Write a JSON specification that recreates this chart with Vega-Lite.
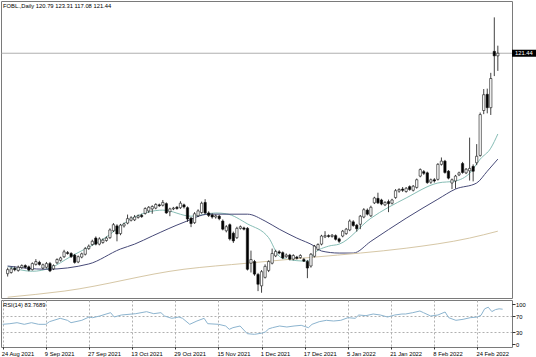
{
  "$schema": "https://vega.github.io/schema/vega-lite/v6.json",
  "padding": 0,
  "background": "white",
  "spacing": -1,
  "resolve": {"scale": {"x": "independent", "y": "independent"}},
  "config": {
    "font": "Liberation Sans",
    "view": {"stroke": "#7a7a7a", "strokeWidth": 1},
    "axis": {"labelFont": "Liberation Sans", "labelFontSize": 5.8, "labelColor": "#000", "tickColor": "#000", "tickWidth": 0.8, "gridColor": "#b0b0b0", "gridDash": [2, 2], "gridWidth": 1, "domain": false},
    "title": {"font": "Liberation Sans", "fontSize": 5.8, "fontWeight": "normal", "color": "#000", "anchor": "start", "frame": "group", "offset": -8, "dx": 2}
  },
  "datasets": {
    "candles": [
      {"i":0,"open":67.0,"high":68.5,"low":66.3,"close":68.0},
      {"i":1,"open":67.3,"high":68.6,"low":67.0,"close":68.2},
      {"i":2,"open":68.3,"high":68.8,"low":67.6,"close":68.0},
      {"i":3,"open":67.8,"high":69.0,"low":67.5,"close":68.6},
      {"i":4,"open":68.5,"high":69.3,"low":68.2,"close":69.0},
      {"i":5,"open":69.0,"high":69.3,"low":68.3,"close":68.6},
      {"i":6,"open":68.7,"high":69.0,"low":67.6,"close":67.9},
      {"i":7,"open":68.0,"high":69.8,"low":67.8,"close":69.5},
      {"i":8,"open":69.3,"high":70.6,"low":69.0,"close":70.0},
      {"i":9,"open":69.8,"high":70.2,"low":69.0,"close":69.3},
      {"i":10,"open":68.4,"high":69.5,"low":68.1,"close":69.2},
      {"i":11,"open":68.6,"high":69.9,"low":68.3,"close":69.5},
      {"i":12,"open":69.5,"high":69.9,"low":67.4,"close":67.7},
      {"i":13,"open":68.2,"high":69.3,"low":67.9,"close":69.0},
      {"i":14,"open":69.7,"high":70.8,"low":69.4,"close":70.5},
      {"i":15,"open":70.3,"high":71.2,"low":70.0,"close":70.9},
      {"i":16,"open":71.2,"high":72.9,"low":70.9,"close":72.4},
      {"i":17,"open":72.2,"high":72.6,"low":71.7,"close":72.0},
      {"i":18,"open":72.0,"high":72.3,"low":70.9,"close":71.2},
      {"i":19,"open":71.6,"high":71.9,"low":69.5,"close":69.8},
      {"i":20,"open":69.9,"high":71.5,"low":69.6,"close":71.2},
      {"i":21,"open":71.1,"high":72.2,"low":70.8,"close":71.9},
      {"i":22,"open":71.8,"high":73.6,"low":71.5,"close":73.2},
      {"i":23,"open":73.2,"high":74.2,"low":72.9,"close":73.8},
      {"i":24,"open":74.2,"high":75.4,"low":73.9,"close":75.0},
      {"i":25,"open":75.8,"high":76.2,"low":74.0,"close":74.3},
      {"i":26,"open":74.3,"high":76.0,"low":74.0,"close":75.6},
      {"i":27,"open":74.7,"high":75.7,"low":74.4,"close":75.3},
      {"i":28,"open":75.2,"high":76.2,"low":74.9,"close":75.8},
      {"i":29,"open":75.9,"high":78.2,"low":75.6,"close":77.8},
      {"i":30,"open":77.6,"high":79.5,"low":77.3,"close":79.1},
      {"i":31,"open":78.8,"high":79.2,"low":75.0,"close":76.8},
      {"i":32,"open":76.9,"high":79.3,"low":76.5,"close":79.0},
      {"i":33,"open":78.8,"high":79.6,"low":78.4,"close":79.3},
      {"i":34,"open":79.5,"high":81.6,"low":79.2,"close":80.6},
      {"i":35,"open":80.2,"high":81.2,"low":79.9,"close":80.8},
      {"i":36,"open":80.3,"high":81.5,"low":80.0,"close":81.0},
      {"i":37,"open":80.9,"high":81.6,"low":80.6,"close":81.3},
      {"i":38,"open":81.4,"high":81.8,"low":80.8,"close":81.1},
      {"i":39,"open":81.9,"high":83.4,"low":81.6,"close":83.1},
      {"i":40,"open":82.5,"high":83.7,"low":82.0,"close":83.4},
      {"i":41,"open":83.0,"high":83.9,"low":81.8,"close":83.6},
      {"i":42,"open":83.2,"high":84.4,"low":82.9,"close":84.1},
      {"i":43,"open":84.0,"high":84.3,"low":83.5,"close":83.8},
      {"i":44,"open":83.9,"high":85.2,"low":83.6,"close":84.6},
      {"i":45,"open":84.3,"high":84.6,"low":81.8,"close":82.0},
      {"i":46,"open":82.3,"high":83.3,"low":81.2,"close":83.0},
      {"i":47,"open":83.0,"high":83.5,"low":82.7,"close":83.2},
      {"i":48,"open":83.4,"high":83.7,"low":82.8,"close":83.1},
      {"i":49,"open":83.3,"high":84.9,"low":83.0,"close":84.4},
      {"i":50,"open":84.0,"high":84.3,"low":83.1,"close":83.5},
      {"i":51,"open":83.3,"high":83.6,"low":79.8,"close":80.5},
      {"i":52,"open":80.7,"high":81.0,"low":78.5,"close":79.4},
      {"i":53,"open":79.6,"high":82.2,"low":79.3,"close":81.8},
      {"i":54,"open":81.3,"high":82.9,"low":81.0,"close":82.5},
      {"i":55,"open":82.1,"high":84.8,"low":81.8,"close":84.4},
      {"i":56,"open":84.6,"high":85.4,"low":81.7,"close":82.0},
      {"i":57,"open":82.0,"high":82.4,"low":81.0,"close":81.4},
      {"i":58,"open":81.5,"high":81.9,"low":80.6,"close":81.0},
      {"i":59,"open":81.0,"high":81.6,"low":80.6,"close":81.3},
      {"i":60,"open":81.2,"high":81.5,"low":80.2,"close":80.6},
      {"i":61,"open":80.0,"high":80.4,"low":77.7,"close":78.0},
      {"i":62,"open":77.6,"high":79.0,"low":77.2,"close":78.6},
      {"i":63,"open":79.1,"high":79.4,"low":75.2,"close":75.6},
      {"i":64,"open":77.0,"high":77.4,"low":74.6,"close":75.1},
      {"i":65,"open":75.9,"high":78.6,"low":75.6,"close":78.2},
      {"i":66,"open":78.2,"high":78.9,"low":77.9,"close":78.6},
      {"i":67,"open":78.3,"high":78.6,"low":77.7,"close":78.0},
      {"i":68,"open":78.2,"high":78.5,"low":67.8,"close":68.1},
      {"i":69,"open":69.6,"high":72.7,"low":67.3,"close":70.5},
      {"i":70,"open":70.0,"high":70.4,"low":66.5,"close":66.9},
      {"i":71,"open":66.8,"high":67.2,"low":62.7,"close":64.4},
      {"i":72,"open":64.0,"high":67.9,"low":62.3,"close":67.5},
      {"i":73,"open":66.1,"high":69.3,"low":65.8,"close":68.8},
      {"i":74,"open":67.8,"high":70.3,"low":67.4,"close":70.0},
      {"i":75,"open":69.6,"high":73.2,"low":69.3,"close":72.0},
      {"i":76,"open":71.4,"high":72.9,"low":71.1,"close":72.5},
      {"i":77,"open":72.4,"high":72.8,"low":71.8,"close":72.1},
      {"i":78,"open":72.2,"high":72.5,"low":70.6,"close":70.9},
      {"i":79,"open":71.2,"high":72.0,"low":70.9,"close":71.6},
      {"i":80,"open":71.6,"high":71.9,"low":70.3,"close":70.6},
      {"i":81,"open":70.6,"high":71.8,"low":70.3,"close":71.5},
      {"i":82,"open":71.1,"high":71.4,"low":70.5,"close":70.8},
      {"i":83,"open":71.0,"high":71.8,"low":70.7,"close":71.5},
      {"i":84,"open":70.5,"high":70.9,"low":69.9,"close":70.1},
      {"i":85,"open":70.0,"high":70.4,"low":65.9,"close":68.4},
      {"i":86,"open":68.9,"high":72.1,"low":68.5,"close":71.8},
      {"i":87,"open":71.3,"high":74.1,"low":71.0,"close":73.8},
      {"i":88,"open":73.0,"high":74.5,"low":72.7,"close":74.2},
      {"i":89,"open":74.3,"high":76.6,"low":74.0,"close":76.3},
      {"i":90,"open":76.1,"high":77.5,"low":75.8,"close":76.4},
      {"i":91,"open":76.4,"high":76.7,"low":75.9,"close":76.2},
      {"i":92,"open":76.2,"high":76.8,"low":75.9,"close":76.5},
      {"i":93,"open":76.4,"high":76.7,"low":75.2,"close":75.5},
      {"i":94,"open":75.6,"high":75.9,"low":74.6,"close":75.0},
      {"i":95,"open":76.3,"high":77.8,"low":76.0,"close":77.5},
      {"i":96,"open":76.9,"high":78.3,"low":76.6,"close":78.0},
      {"i":97,"open":77.8,"high":80.4,"low":77.5,"close":80.0},
      {"i":98,"open":79.8,"high":80.2,"low":78.6,"close":78.9},
      {"i":99,"open":79.0,"high":79.3,"low":77.4,"close":78.1},
      {"i":100,"open":79.2,"high":81.5,"low":78.0,"close":81.2},
      {"i":101,"open":81.0,"high":83.2,"low":80.7,"close":82.8},
      {"i":102,"open":82.7,"high":83.1,"low":81.4,"close":81.7},
      {"i":103,"open":81.3,"high":83.8,"low":81.0,"close":83.4},
      {"i":104,"open":84.5,"high":86.0,"low":84.2,"close":85.7},
      {"i":105,"open":85.6,"high":87.0,"low":84.2,"close":84.5},
      {"i":106,"open":85.2,"high":85.5,"low":83.9,"close":84.2},
      {"i":107,"open":84.0,"high":84.9,"low":83.7,"close":84.6},
      {"i":108,"open":84.8,"high":85.3,"low":82.2,"close":84.3},
      {"i":109,"open":84.4,"high":85.5,"low":84.1,"close":85.2},
      {"i":110,"open":85.8,"high":87.9,"low":85.5,"close":87.5},
      {"i":111,"open":87.4,"high":88.1,"low":87.0,"close":87.8},
      {"i":112,"open":87.9,"high":88.4,"low":87.2,"close":87.6},
      {"i":113,"open":87.3,"high":88.4,"low":87.0,"close":88.1},
      {"i":114,"open":88.5,"high":88.8,"low":87.5,"close":87.8},
      {"i":115,"open":87.6,"high":88.9,"low":87.3,"close":88.6},
      {"i":116,"open":88.3,"high":90.5,"low":88.0,"close":90.2},
      {"i":117,"open":91.1,"high":93.0,"low":90.8,"close":92.7},
      {"i":118,"open":92.2,"high":92.6,"low":91.4,"close":91.8},
      {"i":119,"open":91.9,"high":92.2,"low":89.2,"close":89.5},
      {"i":120,"open":89.6,"high":90.5,"low":89.2,"close":90.2},
      {"i":121,"open":90.2,"high":90.6,"low":89.5,"close":89.9},
      {"i":122,"open":90.3,"high":94.3,"low":90.0,"close":94.0},
      {"i":123,"open":94.0,"high":95.7,"low":93.7,"close":94.8},
      {"i":124,"open":94.8,"high":95.1,"low":91.7,"close":92.0},
      {"i":125,"open":92.3,"high":92.6,"low":90.3,"close":90.6},
      {"i":126,"open":89.4,"high":90.5,"low":87.9,"close":90.2},
      {"i":127,"open":89.9,"high":91.4,"low":88.0,"close":91.1},
      {"i":128,"open":91.4,"high":92.2,"low":91.1,"close":91.9},
      {"i":129,"open":94.2,"high":94.6,"low":91.7,"close":92.0},
      {"i":130,"open":91.9,"high":93.1,"low":91.6,"close":92.8},
      {"i":131,"open":92.4,"high":100.6,"low":90.0,"close":93.0},
      {"i":132,"open":93.5,"high":94.0,"low":89.8,"close":92.3},
      {"i":133,"open":94.4,"high":99.0,"low":93.8,"close":96.0},
      {"i":134,"open":96.2,"high":106.8,"low":95.9,"close":106.3},
      {"i":135,"open":107.3,"high":112.6,"low":106.4,"close":111.2},
      {"i":136,"open":111.3,"high":112.7,"low":106.6,"close":108.0},
      {"i":137,"open":108.0,"high":116.6,"low":106.2,"close":115.2},
      {"i":138,"open":121.9,"high":130.3,"low":115.8,"close":120.8},
      {"i":139,"open":120.79,"high":123.31,"low":117.08,"close":121.44}
    ],
    "ma": [
      {"s":"ma1","i":0,"v":68.8},{"s":"ma1","i":7,"v":67.6},{"s":"ma1","i":12,"v":68.4},{"s":"ma1","i":18,"v":71.3},{"s":"ma1","i":27,"v":75.5},{"s":"ma1","i":36,"v":81.0},{"s":"ma1","i":44,"v":82.7},{"s":"ma1","i":52,"v":81.2},{"s":"ma1","i":59,"v":82.0},{"s":"ma1","i":62,"v":81.8},{"s":"ma1","i":68,"v":79.3},{"s":"ma1","i":74,"v":75.9},{"s":"ma1","i":77,"v":71.3},{"s":"ma1","i":79,"v":70.6},{"s":"ma1","i":85,"v":70.1},{"s":"ma1","i":87,"v":72.1},{"s":"ma1","i":91,"v":73.8},{"s":"ma1","i":94,"v":74.3},{"s":"ma1","i":103,"v":80.7},{"s":"ma1","i":113,"v":85.7},{"s":"ma1","i":122,"v":89.4},{"s":"ma1","i":127,"v":89.9},{"s":"ma1","i":131,"v":91.8},{"s":"ma1","i":134,"v":95.3},{"s":"ma1","i":137,"v":98.0},{"s":"ma1","i":139,"v":101.5},
      {"s":"ma2","i":0,"v":68.9},{"s":"ma2","i":11,"v":68.1},{"s":"ma2","i":23,"v":69.4},{"s":"ma2","i":32,"v":73.1},{"s":"ma2","i":36,"v":74.3},{"s":"ma2","i":41,"v":76.3},{"s":"ma2","i":50,"v":79.7},{"s":"ma2","i":57,"v":81.7},{"s":"ma2","i":68,"v":81.7},{"s":"ma2","i":73,"v":80.0},{"s":"ma2","i":77,"v":78.0},{"s":"ma2","i":82,"v":75.8},{"s":"ma2","i":87,"v":73.8},{"s":"ma2","i":89,"v":72.6},{"s":"ma2","i":94,"v":72.1},{"s":"ma2","i":98,"v":72.1},{"s":"ma2","i":103,"v":75.0},{"s":"ma2","i":113,"v":80.7},{"s":"ma2","i":122,"v":85.4},{"s":"ma2","i":127,"v":87.9},{"s":"ma2","i":133,"v":89.4},{"s":"ma2","i":136,"v":92.3},{"s":"ma2","i":139,"v":95.3},
      {"s":"ma3","i":0,"v":61.2},{"s":"ma3","i":16,"v":62.7},{"s":"ma3","i":50,"v":68.1},{"s":"ma3","i":68,"v":69.6},{"s":"ma3","i":87,"v":71.1},{"s":"ma3","i":100,"v":72.1},{"s":"ma3","i":113,"v":73.3},{"s":"ma3","i":131,"v":75.8},{"s":"ma3","i":139,"v":77.5}
    ],
    "rsi": [
      {"i":0,"rsi":49.2},{"i":2,"rsi":50.8},{"i":4,"rsi":53.3},{"i":6,"rsi":49.2},{"i":8,"rsi":53.3},{"i":10,"rsi":49.2},{"i":12,"rsi":49.2},{"i":13,"rsi":55.8},{"i":16,"rsi":64.2},{"i":18,"rsi":59.2},{"i":19,"rsi":53.3},{"i":22,"rsi":59.2},{"i":24,"rsi":67.5},{"i":25,"rsi":65.8},{"i":27,"rsi":70},{"i":30,"rsi":78.3},{"i":31,"rsi":67.5},{"i":33,"rsi":72.5},{"i":37,"rsi":75.8},{"i":40,"rsi":80.8},{"i":42,"rsi":75.8},{"i":44,"rsi":78.3},{"i":45,"rsi":70},{"i":47,"rsi":64.2},{"i":49,"rsi":67.5},{"i":50,"rsi":64.2},{"i":52,"rsi":49.2},{"i":54,"rsi":57.5},{"i":56,"rsi":64.2},{"i":57,"rsi":50.8},{"i":60,"rsi":49.2},{"i":62,"rsi":45},{"i":63,"rsi":36.7},{"i":64,"rsi":40.8},{"i":66,"rsi":45},{"i":68,"rsi":25.8},{"i":70,"rsi":24.2},{"i":72,"rsi":27},{"i":73,"rsi":30},{"i":74,"rsi":38},{"i":75,"rsi":40.8},{"i":77,"rsi":45},{"i":79,"rsi":42.5},{"i":81,"rsi":45},{"i":83,"rsi":46.7},{"i":85,"rsi":40.8},{"i":86,"rsi":49.2},{"i":88,"rsi":55.8},{"i":90,"rsi":59.2},{"i":92,"rsi":57.5},{"i":94,"rsi":59.2},{"i":96,"rsi":65.8},{"i":98,"rsi":64.2},{"i":99,"rsi":72.5},{"i":101,"rsi":70.8},{"i":103,"rsi":75},{"i":105,"rsi":72.5},{"i":107,"rsi":67.5},{"i":109,"rsi":72.5},{"i":111,"rsi":75},{"i":112,"rsi":75},{"i":114,"rsi":78.3},{"i":116,"rsi":82.5},{"i":117,"rsi":78.3},{"i":119,"rsi":70},{"i":121,"rsi":72.5},{"i":123,"rsi":80},{"i":124,"rsi":65.8},{"i":126,"rsi":59.2},{"i":128,"rsi":61.7},{"i":130,"rsi":65.8},{"i":132,"rsi":67.5},{"i":133,"rsi":72},{"i":134,"rsi":88},{"i":135,"rsi":92},{"i":136,"rsi":81},{"i":137,"rsi":86},{"i":138,"rsi":88},{"i":139,"rsi":87}
    ],
    "last": [{"price": 121.44, "label": "121.44"}]
  },
  "vconcat": [
    {
      "width": 511,
      "height": 297,
      "title": {"text": "FOBL.,Daily  120.79 123.31 117.08 121.44"},
      "layer": [
        {
          "data": {"name": "ma"},
          "mark": {"type": "line", "strokeWidth": 1, "interpolate": "monotone"},
          "encoding": {
            "x": {"field": "i", "type": "quantitative", "scale": {"domain": [-0.47, 141.6], "nice": false, "zero": false}, "axis": {"values": [0,12,24,36,48,60,72,84,96,108,120,132], "labels": false, "ticks": false, "grid": true, "title": null, "domain": true, "domainColor": "#8a8a8a", "domainWidth": 3, "minExtent": 0, "maxExtent": 0, "offset": 0}},
            "y": {"field": "v", "type": "quantitative", "scale": {"domain": [61.0, 134.34], "nice": false, "zero": false}, "axis": {"orient": "right", "title": null, "values": [133.1,127.6,122.2,116.8,111.4,106.0,100.6,95.2,89.8,84.4,79.0,73.6,68.1,62.7], "format": ".2f", "labelExpr": "abs(datum.value-122.2)<0.01 ? '' : datum.label", "tickSize": 3, "labelPadding": 0.5, "grid": true}},
            "color": {"field": "s", "type": "nominal", "scale": {"domain": ["ma1","ma2","ma3"], "range": ["#86bdb5","#474a78","#d6c7a6"]}, "legend": null}
          }
        },
        {
          "data": {"name": "last"},
          "mark": {"type": "rule", "color": "#9a9a9a", "strokeWidth": 0.8},
          "encoding": {
            "y": {"field": "price", "type": "quantitative", "scale": {"domain": [61.0, 134.34], "nice": false, "zero": false}, "axis": null}
          }
        },
        {
          "data": {"name": "candles"},
          "mark": {"type": "rule", "color": "#111", "strokeWidth": 0.8},
          "encoding": {
            "x": {"field": "i", "type": "quantitative", "scale": {"domain": [-0.47, 141.6], "nice": false, "zero": false}, "axis": null},
            "y": {"field": "low", "type": "quantitative", "scale": {"domain": [61.0, 134.34], "nice": false, "zero": false}, "axis": null},
            "y2": {"field": "high"}
          }
        },
        {
          "data": {"name": "candles"},
          "mark": {"type": "bar", "width": 2.3, "stroke": "#111", "strokeWidth": 0.6},
          "encoding": {
            "x": {"field": "i", "type": "quantitative", "scale": {"domain": [-0.47, 141.6], "nice": false, "zero": false}, "axis": null},
            "y": {"field": "open", "type": "quantitative", "scale": {"domain": [61.0, 134.34], "nice": false, "zero": false}, "axis": null},
            "y2": {"field": "close"},
            "fill": {"condition": {"test": "datum.close >= datum.open", "value": "#ffffff"}, "value": "#000000"}
          }
        },
        {
          "data": {"name": "last"},
          "mark": {"type": "point", "shape": "M0,-0.27L2,-0.27L2,0.27L0,0.27Z", "size": 676, "filled": true, "color": "#000", "opacity": 1, "clip": false},
          "encoding": {
            "x": {"value": "width"},
            "y": {"field": "price", "type": "quantitative", "scale": {"domain": [61.0, 134.34], "nice": false, "zero": false}, "axis": null}
          }
        },
        {
          "data": {"name": "last"},
          "mark": {"type": "text", "align": "left", "baseline": "middle", "dx": 3, "fontSize": 5.8, "color": "#fff", "font": "Liberation Sans"},
          "encoding": {
            "x": {"value": "width"},
            "y": {"field": "price", "type": "quantitative", "scale": {"domain": [61.0, 134.34], "nice": false, "zero": false}, "axis": null},
            "text": {"field": "label"}
          }
        }
      ]
    },
    {
      "width": 511,
      "height": 47,
      "title": {"text": "RSI(14) 83.7689"},
      "data": {"name": "rsi"},
      "mark": {"type": "line", "color": "#8cb4cf", "strokeWidth": 1},
      "encoding": {
        "x": {"field": "i", "type": "quantitative", "scale": {"domain": [-0.47, 141.6], "nice": false, "zero": false}, "axis": {"title": null, "values": [0,12,24,36,48,60,72,84,96,108,120,132], "labelExpr": "['24 Aug 2021','9 Sep 2021','27 Sep 2021','13 Oct 2021','29 Oct 2021','15 Nov 2021','1 Dec 2021','17 Dec 2021','5 Jan 2022','21 Jan 2022','8 Feb 2022','24 Feb 2022'][round(datum.value/12)]", "labelAlign": "left", "labelOffset": -1.5, "labelFlush": false, "labelOverlap": false, "tickSize": 2, "labelPadding": 1, "grid": true}},
        "y": {"field": "rsi", "type": "quantitative", "scale": {"domain": [-7.5, 110], "nice": false, "zero": false}, "axis": {"orient": "right", "title": null, "values": [0,30,70,100], "tickSize": 3, "labelPadding": 0.5, "grid": true, "gridOpacity": {"condition": {"test": "datum.value==30 || datum.value==70", "value": 1}, "value": 0}}}
      }
    }
  ]
}
